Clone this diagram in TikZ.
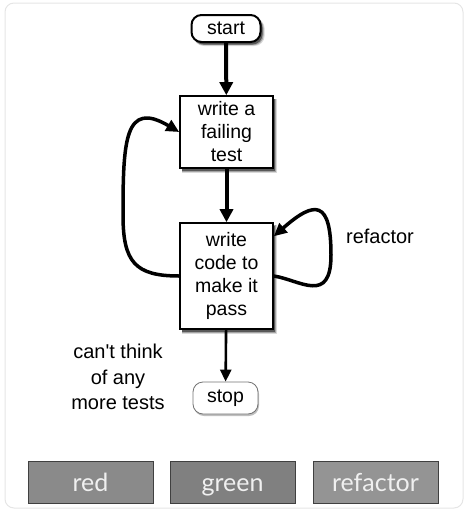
\documentclass[tikz,border=0pt]{standalone}
\usepackage{fontspec}
\setmainfont{Liberation Sans}
\newfontfamily\labelfont{Lato}
\usetikzlibrary{arrows.meta,shadows}
\tikzset{
  softshadow/.style={
    drop shadow={shadow xshift=3pt, shadow yshift=-3.5pt, shadow scale=1.03, opacity=0.15, fill=black},
    drop shadow={shadow xshift=2.5pt, shadow yshift=-3pt, shadow scale=1.015, opacity=0.25, fill=black},
    drop shadow={shadow xshift=2pt, shadow yshift=-2.5pt, opacity=0.45, fill=black}},
  flow/.style={draw=black, fill=white, line width=1.6pt, align=center, inner sep=0pt,
    font=\fontsize{19.5}{23}\selectfont, softshadow},
  term/.style={flow, rounded corners=10pt, line width=2pt},
  stopbox/.style={draw=black!55, fill=white, line width=0.8pt, rounded corners=10pt, inner sep=0pt,
    font=\fontsize{19.5}{23}\selectfont,
    drop shadow={shadow xshift=1pt, shadow yshift=-2pt, opacity=0.25, fill=black}},
  bigarrow/.style={line width=4pt, -{Triangle[length=13pt,width=13pt]}},
  midarrow/.style={line width=2.6pt, -{Triangle[length=12pt,width=11pt]}},
  loop/.style={line width=3.5pt, -{Triangle[length=13pt,width=12pt]}},
  phase/.style={draw=black!75, line width=1pt, minimum width=125pt, minimum height=42pt,
    inner sep=0pt, text height=20pt, text depth=2pt, text=white!94!black,
    font=\labelfont\fontsize{25}{26}\selectfont},
  lbl/.style={align=center, font=\fontsize{20}{25.5}\selectfont}
}
\begin{document}
\begin{tikzpicture}[x=1pt,y=-1pt]
\useasboundingbox (0,0) rectangle (469,517);
\draw[black!10, line width=1pt, rounded corners=9pt] (5,3) rectangle (463,508);

\node[term, minimum width=69pt, minimum height=27pt] (start) at (226,28.5) {start};
\node[flow, minimum width=93pt, minimum height=72pt] (test) at (226.5,132) {write a\\failing\\test};
\node[flow, minimum width=93pt, minimum height=106pt] (code) at (226.5,276) {write\\code to\\make it\\pass};
\node[stopbox, minimum width=65pt, minimum height=32pt] (stop) at (225.5,398) {stop};

\draw[bigarrow] (start) -- (test);
\draw[bigarrow] (test) -- (code);
\draw[midarrow] (code) -- (stop);

\draw[loop] (code.west) .. controls (135,276) and (123,262) .. (123,215)
  .. controls (123,140) and (125,100) .. (test.west);
\draw[loop] (code.east) .. controls (300,280) and (331,305) .. (331,255)
  .. controls (331,200) and (315,200) .. (code.40);

\node[lbl] (reflbl) at (380,236) {refactor};
\node[lbl] (cant) at (118,377) {can\textquotesingle t think\\of any\\more tests};

\node[phase, fill=black!46] (red) at (90.5,482) {red};
\node[phase, fill=black!50] (green) at (232.5,482) {green};
\node[phase, fill=black!42] (refac) at (375.5,482) {refactor};
\end{tikzpicture}
\end{document}
